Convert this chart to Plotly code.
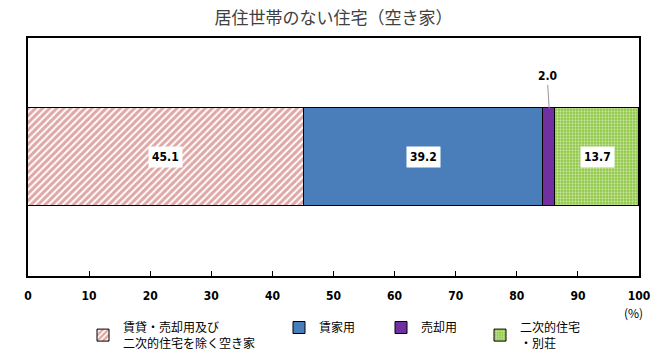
import plotly.graph_objects as go

categories = ["賃貸・売却用及び<br>二次的住宅を除く空き家", "賃家用", "売却用", "二次的住宅<br>・別荘"]
values = [45.1, 39.2, 2.0, 13.7]
value_labels = ["45.1", "39.2", "2.0", "13.7"]
x_ticks = [0, 10, 20, 30, 40, 50, 60, 70, 80, 90, 100]

colors = ["#C0504D", "#4A7EBB", "#7030A0", "#92C850"]
patterns = [
    dict(shape="/", fgcolor="#C0504D", bgcolor="white", size=5, solidity=0.6),
    dict(shape=""),
    dict(shape=""),
    dict(shape=".", fgcolor="white", bgcolor="#8CC63F", size=3, solidity=0.45),
]
legend_names = ["legend", "legend2", "legend3", "legend4"]

W, H = 671, 364
legend_px = [83, 279, 381, 480]

JP = "Noto Sans CJK JP"
NUM = "DejaVu Sans Condensed"
BAR_W = 0.408

ML, MR, MT, MB = 28, 32, 38, 88
PW, PH = W - ML - MR, H - MT - MB

fig = go.Figure()
for i, (cat, v) in enumerate(zip(categories, values)):
    fig.add_trace(go.Bar(
        x=[v], y=[0], orientation="h", name=cat, width=BAR_W,
        marker=dict(color=colors[i], line=dict(color="black", width=1), pattern=patterns[i]),
        legend=legend_names[i], hoverinfo="skip",
    ))

cum = 0
for i, v in enumerate(values):
    mid = cum + v / 2
    if v < 5:
        fig.add_annotation(x=mid, y=BAR_W / 2, text=value_labels[i], showarrow=True,
                           arrowhead=0, arrowcolor="#999999", arrowwidth=1,
                           ax=-2, ay=-32, font=dict(family=NUM, size=12, color="black", weight="bold"),
                           bgcolor="white")
    else:
        fig.add_annotation(x=mid, y=0, text=value_labels[i], showarrow=False,
                           font=dict(family=NUM, size=12, color="black", weight="bold"),
                           bgcolor="white", borderpad=3)
    cum += v

pct_x, pct_y = 633, 312
fig.add_annotation(x=(pct_x - ML) / PW, xref="paper", y=1 - (pct_y - MT) / PH, yref="paper",
                   text="(%)", showarrow=False, xanchor="center", yanchor="middle",
                   font=dict(family=JP, size=12, color="black"))

layout_legends = {}
for i, ln in enumerate(legend_names):
    layout_legends[ln] = dict(x=legend_px[i] / W, y=1 - 313 / H, xref="container", yref="container",
                              xanchor="left", yanchor="top",
                              orientation="h", font=dict(family=JP, size=12, color="black"),
                              bgcolor="rgba(0,0,0,0)", itemwidth=30, tracegroupgap=0)

fig.update_layout(
    width=W, height=H,
    margin=dict(l=ML, r=MR, t=MT, b=MB, autoexpand=False),
    paper_bgcolor="white", plot_bgcolor="white",
    barmode="stack", bargap=0,
    title=dict(text="居住世帯のない住宅（空き家）", x=0.5, xref="paper", xanchor="center",
               y=1 - 18 / H, yref="container", yanchor="middle",
               font=dict(family=JP, size=17, color="#404040")),
    xaxis=dict(range=[0, 100], tickvals=x_ticks, ticktext=[str(t) for t in x_ticks],
               ticks="inside", ticklen=5, tickcolor="black", showgrid=False, automargin=False,
               showline=True, linecolor="black", linewidth=1.5, mirror=True, zeroline=False,
               ticklabelstandoff=8,
               tickfont=dict(family=NUM, size=12, color="black", weight="bold")),
    yaxis=dict(range=[-0.5, 0.5], showticklabels=False, ticks="", showgrid=False, automargin=False,
               showline=True, linecolor="black", linewidth=1.5, mirror=True, zeroline=False),
    showlegend=True,
    **layout_legends,
)

fig.write_html("out.html", config={"displayModeBar": False},
               post_script="document.body.style.margin='0';")
